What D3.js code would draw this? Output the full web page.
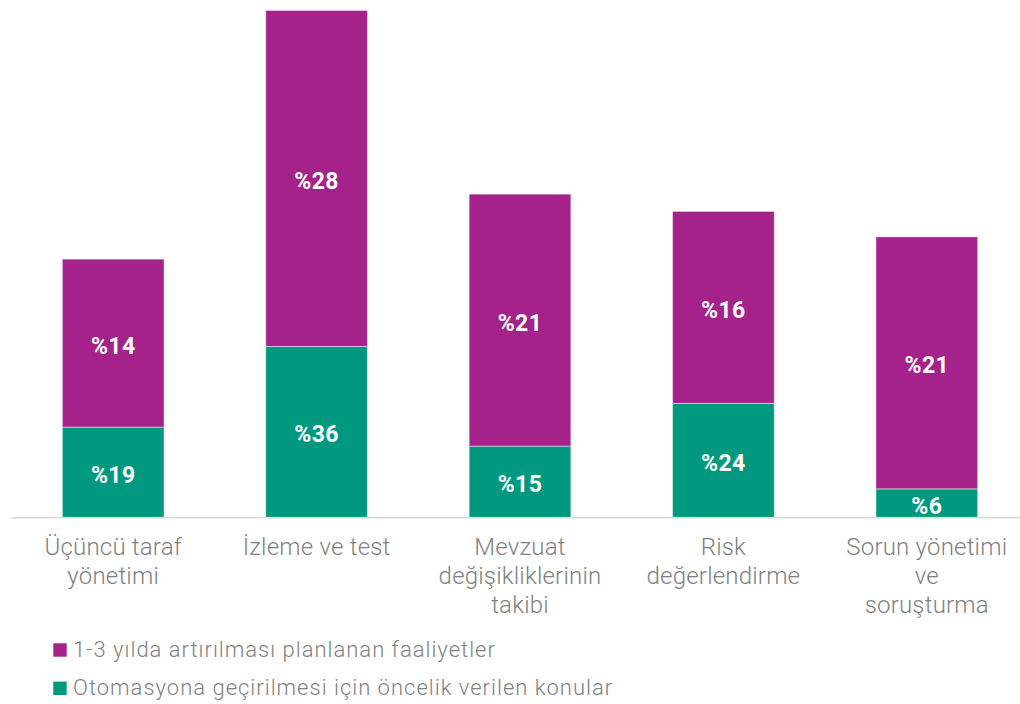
<!DOCTYPE html>
<html>
<head>
<meta charset="utf-8">
<script src="https://cdn.jsdelivr.net/npm/d3@7"></script>
<style>
  html, body { margin: 0; padding: 0; background: #fff; }
  svg { display: block; }
</style>
</head>
<body>
<svg id="chart" width="1020" height="704"></svg>
<script>
// Focus areas (each label split into its display lines)
const categories = [
  ["Üçüncü taraf", "yönetimi"],
  ["İzleme ve test"],
  ["Mevzuat", "değişikliklerinin", "takibi"],
  ["Risk", "değerlendirme"],
  ["Sorun yönetimi", "ve", "soruşturma"]
];
// Share of respondents (%) per area
const automationPriority = [19, 36, 15, 24, 6];   // Otomasyona geçirilmesi için öncelik verilen konular
const plannedIncrease    = [14, 28, 21, 16, 21];  // 1-3 yılda artırılması planlanan faaliyetler

const seriesNames = [
  "1-3 yılda artırılması planlanan faaliyetler",
  "Otomasyona geçirilmesi için öncelik verilen konular"
];
const colors = { planned: "#A5228B", auto: "#00997F" };

const svg = d3.select("#chart");
const baseline = 517.3;

const keys = categories.map((c, i) => i);
const x = d3.scaleBand()
  .domain(keys)
  .range([11.5, 1028.5])
  .paddingInner(0.5)
  .paddingOuter(0.25);

// Each series has its own height scale (pixels per percentage point)
const hAuto = d3.scaleLinear().domain([0, 100]).range([0, 474.5]);
const hPlan = d3.scaleLinear().domain([0, 100]).range([0, 1200]);

const rows = keys.map(i => {
  const a = hAuto(automationPriority[i]);
  const p = hPlan(plannedIncrease[i]);
  return {
    i,
    autoTop: baseline - a, autoBottom: baseline,
    planTop: baseline - a - p, planBottom: baseline - a
  };
});

const bars = svg.append("g");

// Green segments (bottom)
bars.selectAll("rect.auto").data(rows).join("rect")
  .attr("class", "auto")
  .attr("x", d => x(d.i))
  .attr("width", x.bandwidth())
  .attr("y", d => d.autoTop)
  .attr("height", d => d.autoBottom - d.autoTop)
  .attr("fill", colors.auto)
  .attr("stroke", "rgba(255,255,255,0.45)")
  .attr("stroke-width", 1);

// Purple segments (stacked on top)
bars.selectAll("rect.plan").data(rows).join("rect")
  .attr("class", "plan")
  .attr("x", d => x(d.i))
  .attr("width", x.bandwidth())
  .attr("y", d => d.planTop)
  .attr("height", d => d.planBottom - d.planTop)
  .attr("fill", colors.planned)
  .attr("stroke", "rgba(255,255,255,0.45)")
  .attr("stroke-width", 1);

// Value labels
const labelFont = "Roboto, 'Liberation Sans', Arial, sans-serif";
function valueLabels(cls, values, yFn) {
  svg.append("g").selectAll("text").data(rows).join("text")
    .attr("class", cls)
    .attr("x", d => x(d.i) + x.bandwidth() / 2)
    .attr("y", d => yFn(d) + 10.5)
    .attr("text-anchor", "middle")
    .attr("fill", "#fff")
    .attr("font-family", labelFont)
    .attr("font-weight", 700)
    .attr("font-size", 23)
    .attr("letter-spacing", 0.4)
    .text(d => "%" + values[d.i]);
}
valueLabels("auto-lbl", automationPriority, d => (d.autoTop + d.autoBottom) / 2);
valueLabels("plan-lbl", plannedIncrease, d => (d.planTop + d.planBottom) / 2);

// Baseline axis
const xAxis = d3.axisBottom(x).tickSize(0).tickFormat("");
const axisG = svg.append("g")
  .attr("transform", `translate(0,${baseline + 0.5})`)
  .call(xAxis);
axisG.select(".domain").attr("stroke", "#d9d9d9").attr("stroke-width", 1.6)
  .attr("d", "M11.5,0H1020");

// Category labels
const catFont = "Roboto, 'Liberation Sans', Arial, sans-serif";
const catG = svg.append("g");
rows.forEach(d => {
  const t = catG.append("text")
    .attr("x", x(d.i) + x.bandwidth() / 2)
    .attr("y", 555)
    .attr("text-anchor", "middle")
    .attr("fill", "#7f7f7f")
    .attr("font-family", catFont)
    .attr("font-weight", 300)
    .attr("font-size", 24)
    .attr("letter-spacing", 0.2);
  categories[d.i].forEach((line, k) => {
    t.append("tspan")
      .attr("x", x(d.i) + x.bandwidth() / 2)
      .attr("dy", k === 0 ? 0 : 29)
      .text(line);
  });
});

// Legend
const legend = svg.append("g");
const legendItems = [
  { name: seriesNames[0], color: colors.planned },
  { name: seriesNames[1], color: colors.auto }
];
legendItems.forEach((item, k) => {
  const y0 = 656.7 + k * 38.3;
  legend.append("rect")
    .attr("x", 53.3).attr("y", y0 - 13.4)
    .attr("width", 13.4).attr("height", 13.4)
    .attr("fill", item.color);
  legend.append("text")
    .attr("x", 73).attr("y", y0)
    .attr("fill", "#7f7f7f")
    .attr("font-family", catFont)
    .attr("font-weight", 300)
    .attr("font-size", 22)
    .attr("letter-spacing", 1.0)
    .text(item.name);
});
</script>
</body>
</html>
